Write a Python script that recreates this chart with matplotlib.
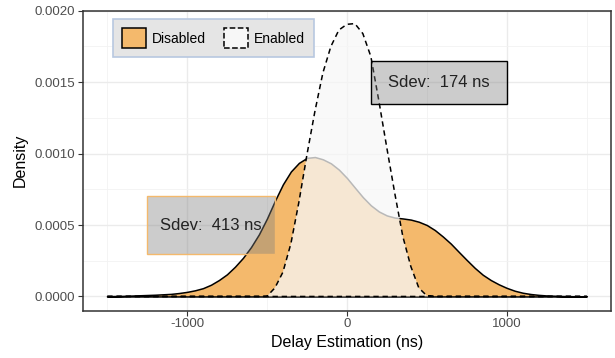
import numpy as np
import matplotlib
matplotlib.use('Agg')
import matplotlib.pyplot as plt
from matplotlib.patches import Patch, Rectangle
from matplotlib.ticker import MultipleLocator, FormatStrFormatter

plt.rcParams['font.family'] = ['Liberation Sans', 'DejaVu Sans']
plt.rcParams['axes.unicode_minus'] = False

# density curves, x every 50 ns
delay = np.arange(-1500, 1501, 50)
disabled = np.array([
    0.02, 0.03, 0.04, 0.06, 0.08, 0.10, 0.12, 0.15, 0.18, 0.24,   # -1500..-1050
    0.32, 0.43, 0.58, 0.82, 1.15, 1.55, 2.08, 2.70, 3.45, 4.35,   # -1000..-550
    5.45, 6.70, 7.85, 8.75, 9.35, 9.70, 9.76, 9.60, 9.32, 8.88,   # -500..-50
    8.30, 7.62, 6.95, 6.38, 5.95, 5.67, 5.52, 5.46, 5.38, 5.23,   # 0..450
    5.00, 4.65, 4.20, 3.70, 3.12, 2.55, 2.00, 1.52, 1.15, 0.85,   # 500..950
    0.60, 0.40, 0.26, 0.17, 0.11, 0.07, 0.05, 0.03, 0.02, 0.01,   # 1000..1450
    0.01]) * 1e-4
enabled = np.array([
    0, 0, 0, 0, 0, 0, 0, 0, 0, 0,                                  # -1500..-1050
    0, 0, 0, 0, 0, 0, 0, 0, 0, 0,                                  # -1000..-550
    0.01, 0.60, 1.70, 3.70, 6.60, 9.90, 12.95, 15.65, 17.50, 18.65,  # -500..-50
    19.05, 19.10, 18.40, 16.80, 13.70, 10.40, 7.20, 4.20, 2.10, 0.60,  # 0..450
    0.05, 0, 0, 0, 0, 0, 0, 0, 0, 0,                               # 500..950
    0, 0, 0, 0, 0, 0, 0, 0, 0, 0,                                  # 1000..1450
    0]) * 1e-4

series_names = ['Disabled', 'Enabled']
sdev_labels = ['Sdev:  413 ns', 'Sdev:  174 ns']
# annotation boxes: (xmin, xmax, ymin, ymax)
sdev_boxes = [(-1250, -450, 0.0003, 0.0007), (150, 1000, 0.00135, 0.00165)]

orange = '#F4B96C'

fig = plt.figure(figsize=(6.15, 3.58), dpi=100)
ax = fig.add_axes([0.135, 0.132, 0.858, 0.838])

ax.fill_between(delay, disabled, facecolor=orange, edgecolor='black',
                linewidth=1.1, zorder=2)
ax.fill_between(delay, enabled, facecolor=(0.97, 0.97, 0.97, 0.75),
                edgecolor='black', linewidth=1.1, linestyle=(0, (3.5, 2.5)), zorder=3)

edges = [orange, 'black']
for (x0, x1, y0, y1), lab, ec in zip(sdev_boxes, sdev_labels, edges):
    ax.add_patch(Rectangle((x0, y0), x1 - x0, y1 - y0, facecolor=(0.5, 0.5, 0.5, 0.4),
                           edgecolor=ec, linewidth=1.0, zorder=4))
    ax.text((x0 + x1) / 2, (y0 + y1) / 2, lab, ha='center', va='center',
            fontsize=12, color='#222222', zorder=5)

ax.set_xlim(-1650, 1650)
ax.set_ylim(-0.0001, 0.002)
ax.xaxis.set_major_locator(MultipleLocator(1000))
ax.xaxis.set_minor_locator(MultipleLocator(500))
ax.yaxis.set_major_locator(MultipleLocator(0.0005))
ax.yaxis.set_minor_locator(MultipleLocator(0.00025))
ax.yaxis.set_major_formatter(FormatStrFormatter('%.4f'))
ax.grid(True, which='major', color='#ebebeb', linewidth=1.0, zorder=0)
ax.grid(True, which='minor', color='#f2f2f2', linewidth=0.6, zorder=0)
ax.set_axisbelow(True)
ax.tick_params(which='major', length=3.5, width=0.8, color='#333333',
               labelsize=9.5, labelcolor='#4d4d4d', pad=2)
ax.tick_params(which='minor', length=0)
for s in ax.spines.values():
    s.set_color('#333333')
    s.set_linewidth(1.1)

ax.set_xlabel('Delay Estimation (ns)', fontsize=11.5, labelpad=3)
ax.set_ylabel('Density', fontsize=11.5, labelpad=5)

handles = [Patch(facecolor=orange, edgecolor='black', linewidth=1.1),
           Patch(facecolor='#f7f7f7', edgecolor='black', linewidth=1.1, linestyle='--')]
leg = ax.legend(handles, series_names, loc='upper left', bbox_to_anchor=(0.057, 0.971),
                ncol=2, frameon=True, fancybox=False, fontsize=10, borderaxespad=0,
                handlelength=1.75, handleheight=1.75, handletextpad=0.4,
                columnspacing=1.3, borderpad=0.65)
leg.get_frame().set_facecolor('#e5e5e5')
leg.get_frame().set_edgecolor('#b8c8e0')
leg.get_frame().set_linewidth(1.2)
leg.get_frame().set_alpha(1)

fig.savefig('out.png', dpi=100)
